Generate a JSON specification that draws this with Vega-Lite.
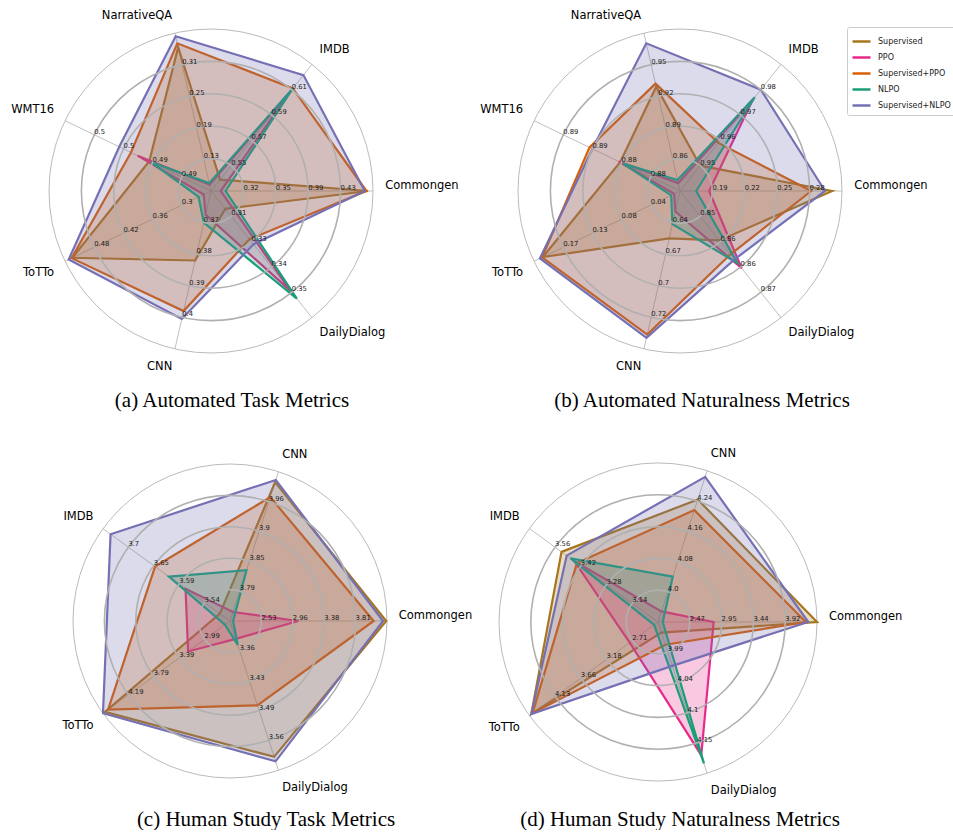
{
"$schema": "https://vega.github.io/schema/vega-lite/v6.json",
"padding": 0,
"background": "white",
"columns": 2,
"bounds": "flush",
"spacing": {"row": 47, "column": 0},
"resolve": {"scale": {"x": "independent", "y": "independent", "size": "independent"}},
"config": {
  "view": {"stroke": null},
  "title": {"orient": "bottom", "offset": 5, "font": "Liberation Serif", "fontSize": 21, "fontWeight": "normal", "color": "#000000", "anchor": "middle"},
  "legend": {"symbolType": "stroke", "symbolSize": 324, "symbolStrokeWidth": 2.5, "labelFont": "DejaVu Sans", "labelFontSize": 8, "labelColor": "#222222", "labelOffset": 6, "rowPadding": -1.4, "padding": 4, "strokeColor": "#cccccc", "fillColor": "white", "cornerRadius": 2}
},
"datasets": {
  "a_axes": [
    {"metric": "Commongen", "idx": 0, "lo": 0.2833, "hi": 0.4667},
    {"metric": "IMDB", "idx": 1, "lo": 0.53, "hi": 0.63},
    {"metric": "NarrativeQA", "idx": 2, "lo": 0.07, "hi": 0.37},
    {"metric": "WMT16", "idx": 3, "lo": 0.4875, "hi": 0.505},
    {"metric": "ToTTo", "idx": 4, "lo": 0.24, "hi": 0.54},
    {"metric": "CNN", "idx": 5, "lo": 0.36, "hi": 0.41},
    {"metric": "DailyDialog", "idx": 6, "lo": 0.3005, "hi": 0.363}
  ],
  "b_axes": [
    {"metric": "Commongen", "idx": 0, "lo": 0.16, "hi": 0.31},
    {"metric": "IMDB", "idx": 1, "lo": 0.94, "hi": 0.99},
    {"metric": "NarrativeQA", "idx": 2, "lo": 0.83, "hi": 0.98},
    {"metric": "WMT16", "idx": 3, "lo": 0.8755, "hi": 0.8955},
    {"metric": "ToTTo", "idx": 4, "lo": -0.004, "hi": 0.2135},
    {"metric": "CNN", "idx": 5, "lo": 0.6133, "hi": 0.7467},
    {"metric": "DailyDialog", "idx": 6, "lo": 0.846, "hi": 0.876}
  ],
  "c_axes": [
    {"metric": "Commongen", "idx": 0, "lo": 2.1033, "hi": 4.2367},
    {"metric": "CNN", "idx": 1, "lo": 3.7333, "hi": 4.0167},
    {"metric": "IMDB", "idx": 2, "lo": 3.4867, "hi": 3.7533},
    {"metric": "ToTTo", "idx": 3, "lo": 2.59, "hi": 4.59},
    {"metric": "DailyDialog", "idx": 4, "lo": 3.2933, "hi": 3.6267}
  ],
  "d_axes": [
    {"metric": "Commongen", "idx": 0, "lo": 1.9867, "hi": 4.4033},
    {"metric": "CNN", "idx": 1, "lo": 3.92, "hi": 4.32},
    {"metric": "IMDB", "idx": 2, "lo": 3.0, "hi": 3.7},
    {"metric": "ToTTo", "idx": 3, "lo": 2.2367, "hi": 4.6033},
    {"metric": "DailyDialog", "idx": 4, "lo": 3.9367, "hi": 4.2033}
  ],
  "a_scores": [
    {"model": "Supervised", "metric": "Commongen", "value": 0.4611},
    {"model": "Supervised", "metric": "IMDB", "value": 0.539},
    {"model": "Supervised", "metric": "NarrativeQA", "value": 0.343},
    {"model": "Supervised", "metric": "WMT16", "value": 0.4949},
    {"model": "Supervised", "metric": "ToTTo", "value": 0.525},
    {"model": "Supervised", "metric": "CNN", "value": 0.382},
    {"model": "Supervised", "metric": "DailyDialog", "value": 0.3093},
    {"model": "PPO", "metric": "Commongen", "value": 0.2943},
    {"model": "PPO", "metric": "IMDB", "value": 0.609},
    {"model": "PPO", "metric": "NarrativeQA", "value": 0.082},
    {"model": "PPO", "metric": "WMT16", "value": 0.4963},
    {"model": "PPO", "metric": "ToTTo", "value": 0.255},
    {"model": "PPO", "metric": "CNN", "value": 0.3675},
    {"model": "PPO", "metric": "DailyDialog", "value": 0.3499},
    {"model": "Supervised+PPO", "metric": "Commongen", "value": 0.4593},
    {"model": "Supervised+PPO", "metric": "IMDB", "value": 0.611},
    {"model": "Supervised+PPO", "metric": "NarrativeQA", "value": 0.3505},
    {"model": "Supervised+PPO", "metric": "WMT16", "value": 0.4971},
    {"model": "Supervised+PPO", "metric": "ToTTo", "value": 0.5265},
    {"model": "Supervised+PPO", "metric": "CNN", "value": 0.398},
    {"model": "Supervised+PPO", "metric": "DailyDialog", "value": 0.3243},
    {"model": "NLPO", "metric": "Commongen", "value": 0.2998},
    {"model": "NLPO", "metric": "IMDB", "value": 0.611},
    {"model": "NLPO", "metric": "NarrativeQA", "value": 0.085},
    {"model": "NLPO", "metric": "WMT16", "value": 0.4947},
    {"model": "NLPO", "metric": "ToTTo", "value": 0.2655},
    {"model": "NLPO", "metric": "CNN", "value": 0.37},
    {"model": "NLPO", "metric": "DailyDialog", "value": 0.3536},
    {"model": "Supervised+NLPO", "metric": "Commongen", "value": 0.4574},
    {"model": "Supervised+NLPO", "metric": "IMDB", "value": 0.6215},
    {"model": "Supervised+NLPO", "metric": "NarrativeQA", "value": 0.364},
    {"model": "Supervised+NLPO", "metric": "WMT16", "value": 0.4985},
    {"model": "Supervised+NLPO", "metric": "ToTTo", "value": 0.5325},
    {"model": "Supervised+NLPO", "metric": "CNN", "value": 0.4005},
    {"model": "Supervised+NLPO", "metric": "DailyDialog", "value": 0.3268}
  ],
  "b_scores": [
    {"model": "Supervised", "metric": "Commongen", "value": 0.301},
    {"model": "Supervised", "metric": "IMDB", "value": 0.95},
    {"model": "Supervised", "metric": "NarrativeQA", "value": 0.929},
    {"model": "Supervised", "metric": "WMT16", "value": 0.8837},
    {"model": "Supervised", "metric": "ToTTo", "value": 0.2005},
    {"model": "Supervised", "metric": "CNN", "value": 0.6533},
    {"model": "Supervised", "metric": "DailyDialog", "value": 0.8577},
    {"model": "PPO", "metric": "Commongen", "value": 0.187},
    {"model": "PPO", "metric": "IMDB", "value": 0.976},
    {"model": "PPO", "metric": "NarrativeQA", "value": 0.8375},
    {"model": "PPO", "metric": "WMT16", "value": 0.8839},
    {"model": "PPO", "metric": "ToTTo", "value": 0.0047},
    {"model": "PPO", "metric": "CNN", "value": 0.6306},
    {"model": "PPO", "metric": "DailyDialog", "value": 0.8643},
    {"model": "Supervised+PPO", "metric": "Commongen", "value": 0.2815},
    {"model": "Supervised+PPO", "metric": "IMDB", "value": 0.959},
    {"model": "Supervised+PPO", "metric": "NarrativeQA", "value": 0.932},
    {"model": "Supervised+PPO", "metric": "WMT16", "value": 0.8879},
    {"model": "Supervised+PPO", "metric": "ToTTo", "value": 0.2015},
    {"model": "Supervised+PPO", "metric": "CNN", "value": 0.7346},
    {"model": "Supervised+PPO", "metric": "DailyDialog", "value": 0.861},
    {"model": "NLPO", "metric": "Commongen", "value": 0.175},
    {"model": "NLPO", "metric": "IMDB", "value": 0.977},
    {"model": "NLPO", "metric": "NarrativeQA", "value": 0.8405},
    {"model": "NLPO", "metric": "WMT16", "value": 0.8833},
    {"model": "NLPO", "metric": "ToTTo", "value": 0.0091},
    {"model": "NLPO", "metric": "CNN", "value": 0.6413},
    {"model": "NLPO", "metric": "DailyDialog", "value": 0.8631},
    {"model": "Supervised+NLPO", "metric": "Commongen", "value": 0.2943},
    {"model": "Supervised+NLPO", "metric": "IMDB", "value": 0.98},
    {"model": "Supervised+NLPO", "metric": "NarrativeQA", "value": 0.9703},
    {"model": "Supervised+NLPO", "metric": "WMT16", "value": 0.8875},
    {"model": "Supervised+NLPO", "metric": "ToTTo", "value": 0.2048},
    {"model": "Supervised+NLPO", "metric": "CNN", "value": 0.7373},
    {"model": "Supervised+NLPO", "metric": "DailyDialog", "value": 0.8622}
  ],
  "c_scores": [
    {"model": "Supervised", "metric": "Commongen", "value": 4.226},
    {"model": "Supervised", "metric": "CNN", "value": 3.9968},
    {"model": "Supervised", "metric": "IMDB", "value": 3.508},
    {"model": "Supervised", "metric": "ToTTo", "value": 4.56},
    {"model": "Supervised", "metric": "DailyDialog", "value": 3.5966},
    {"model": "PPO", "metric": "Commongen", "value": 3.0313},
    {"model": "PPO", "metric": "CNN", "value": 3.7503},
    {"model": "PPO", "metric": "IMDB", "value": 3.58},
    {"model": "PPO", "metric": "ToTTo", "value": 3.25},
    {"model": "PPO", "metric": "DailyDialog", "value": 3.3333},
    {"model": "Supervised+PPO", "metric": "Commongen", "value": 4.0553},
    {"model": "Supervised+PPO", "metric": "CNN", "value": 3.9685},
    {"model": "Supervised+PPO", "metric": "IMDB", "value": 3.644},
    {"model": "Supervised+PPO", "metric": "ToTTo", "value": 4.51},
    {"model": "Supervised+PPO", "metric": "DailyDialog", "value": 3.4816},
    {"model": "NLPO", "metric": "Commongen", "value": 2.146},
    {"model": "NLPO", "metric": "CNN", "value": 3.8296},
    {"model": "NLPO", "metric": "IMDB", "value": 3.6147},
    {"model": "NLPO", "metric": "ToTTo", "value": 2.67},
    {"model": "NLPO", "metric": "DailyDialog", "value": 3.3466},
    {"model": "Supervised+NLPO", "metric": "Commongen", "value": 4.1833},
    {"model": "Supervised+NLPO", "metric": "CNN", "value": 4.001},
    {"model": "Supervised+NLPO", "metric": "IMDB", "value": 3.7374},
    {"model": "Supervised+NLPO", "metric": "ToTTo", "value": 4.59},
    {"model": "Supervised+NLPO", "metric": "DailyDialog", "value": 3.6066}
  ],
  "d_scores": [
    {"model": "Supervised", "metric": "Commongen", "value": 4.4033},
    {"model": "Supervised", "metric": "CNN", "value": 4.244},
    {"model": "Supervised", "metric": "IMDB", "value": 3.525},
    {"model": "Supervised", "metric": "ToTTo", "value": 4.5679},
    {"model": "Supervised", "metric": "DailyDialog", "value": 3.9554},
    {"model": "PPO", "metric": "Commongen", "value": 2.8325},
    {"model": "PPO", "metric": "CNN", "value": 3.948},
    {"model": "PPO", "metric": "IMDB", "value": 3.455},
    {"model": "PPO", "metric": "ToTTo", "value": 2.7574},
    {"model": "PPO", "metric": "DailyDialog", "value": 4.1714},
    {"model": "Supervised+PPO", "metric": "Commongen", "value": 4.2342},
    {"model": "Supervised+PPO", "metric": "CNN", "value": 4.216},
    {"model": "Supervised+PPO", "metric": "IMDB", "value": 3.441},
    {"model": "Supervised+PPO", "metric": "ToTTo", "value": 4.5442},
    {"model": "Supervised+PPO", "metric": "DailyDialog", "value": 3.9767},
    {"model": "NLPO", "metric": "Commongen", "value": 2.0592},
    {"model": "NLPO", "metric": "CNN", "value": 4.04},
    {"model": "NLPO", "metric": "IMDB", "value": 3.476},
    {"model": "NLPO", "metric": "ToTTo", "value": 2.3077},
    {"model": "NLPO", "metric": "DailyDialog", "value": 4.186},
    {"model": "Supervised+NLPO", "metric": "Commongen", "value": 4.2705},
    {"model": "Supervised+NLPO", "metric": "CNN", "value": 4.304},
    {"model": "Supervised+NLPO", "metric": "IMDB", "value": 3.497},
    {"model": "Supervised+NLPO", "metric": "ToTTo", "value": 4.5679},
    {"model": "Supervised+NLPO", "metric": "DailyDialog", "value": 4.014}
  ],
  "a_ticks": [
    {"metric": "Commongen", "tick": 1, "label": "0.32"}, {"metric": "Commongen", "tick": 2, "label": "0.35"}, {"metric": "Commongen", "tick": 3, "label": "0.39"}, {"metric": "Commongen", "tick": 4, "label": "0.43"},
    {"metric": "IMDB", "tick": 1, "label": "0.55"}, {"metric": "IMDB", "tick": 2, "label": "0.57"}, {"metric": "IMDB", "tick": 3, "label": "0.59"}, {"metric": "IMDB", "tick": 4, "label": "0.61"},
    {"metric": "NarrativeQA", "tick": 1, "label": "0.13"}, {"metric": "NarrativeQA", "tick": 2, "label": "0.19"}, {"metric": "NarrativeQA", "tick": 3, "label": "0.25"}, {"metric": "NarrativeQA", "tick": 4, "label": "0.31"},
    {"metric": "WMT16", "tick": 1, "label": "0.49"}, {"metric": "WMT16", "tick": 2, "label": "0.49"}, {"metric": "WMT16", "tick": 3, "label": "0.5"}, {"metric": "WMT16", "tick": 4, "label": "0.5"},
    {"metric": "ToTTo", "tick": 1, "label": "0.3"}, {"metric": "ToTTo", "tick": 2, "label": "0.36"}, {"metric": "ToTTo", "tick": 3, "label": "0.42"}, {"metric": "ToTTo", "tick": 4, "label": "0.48"},
    {"metric": "CNN", "tick": 1, "label": "0.37"}, {"metric": "CNN", "tick": 2, "label": "0.38"}, {"metric": "CNN", "tick": 3, "label": "0.39"}, {"metric": "CNN", "tick": 4, "label": "0.4"},
    {"metric": "DailyDialog", "tick": 1, "label": "0.31"}, {"metric": "DailyDialog", "tick": 2, "label": "0.33"}, {"metric": "DailyDialog", "tick": 3, "label": "0.34"}, {"metric": "DailyDialog", "tick": 4, "label": "0.35"}
  ],
  "b_ticks": [
    {"metric": "Commongen", "tick": 1, "label": "0.19"}, {"metric": "Commongen", "tick": 2, "label": "0.22"}, {"metric": "Commongen", "tick": 3, "label": "0.25"}, {"metric": "Commongen", "tick": 4, "label": "0.28"},
    {"metric": "IMDB", "tick": 1, "label": "0.95"}, {"metric": "IMDB", "tick": 2, "label": "0.96"}, {"metric": "IMDB", "tick": 3, "label": "0.97"}, {"metric": "IMDB", "tick": 4, "label": "0.98"},
    {"metric": "NarrativeQA", "tick": 1, "label": "0.86"}, {"metric": "NarrativeQA", "tick": 2, "label": "0.89"}, {"metric": "NarrativeQA", "tick": 3, "label": "0.92"}, {"metric": "NarrativeQA", "tick": 4, "label": "0.95"},
    {"metric": "WMT16", "tick": 1, "label": "0.88"}, {"metric": "WMT16", "tick": 2, "label": "0.88"}, {"metric": "WMT16", "tick": 3, "label": "0.89"}, {"metric": "WMT16", "tick": 4, "label": "0.89"},
    {"metric": "ToTTo", "tick": 1, "label": "0.04"}, {"metric": "ToTTo", "tick": 2, "label": "0.08"}, {"metric": "ToTTo", "tick": 3, "label": "0.13"}, {"metric": "ToTTo", "tick": 4, "label": "0.17"},
    {"metric": "CNN", "tick": 1, "label": "0.64"}, {"metric": "CNN", "tick": 2, "label": "0.67"}, {"metric": "CNN", "tick": 3, "label": "0.7"}, {"metric": "CNN", "tick": 4, "label": "0.72"},
    {"metric": "DailyDialog", "tick": 1, "label": "0.85"}, {"metric": "DailyDialog", "tick": 2, "label": "0.86"}, {"metric": "DailyDialog", "tick": 3, "label": "0.86"}, {"metric": "DailyDialog", "tick": 4, "label": "0.87"}
  ],
  "c_ticks": [
    {"metric": "Commongen", "tick": 1, "label": "2.53"}, {"metric": "Commongen", "tick": 2, "label": "2.96"}, {"metric": "Commongen", "tick": 3, "label": "3.38"}, {"metric": "Commongen", "tick": 4, "label": "3.81"},
    {"metric": "CNN", "tick": 1, "label": "3.79"}, {"metric": "CNN", "tick": 2, "label": "3.85"}, {"metric": "CNN", "tick": 3, "label": "3.9"}, {"metric": "CNN", "tick": 4, "label": "3.96"},
    {"metric": "IMDB", "tick": 1, "label": "3.54"}, {"metric": "IMDB", "tick": 2, "label": "3.59"}, {"metric": "IMDB", "tick": 3, "label": "3.65"}, {"metric": "IMDB", "tick": 4, "label": "3.7"},
    {"metric": "ToTTo", "tick": 1, "label": "2.99"}, {"metric": "ToTTo", "tick": 2, "label": "3.39"}, {"metric": "ToTTo", "tick": 3, "label": "3.79"}, {"metric": "ToTTo", "tick": 4, "label": "4.19"},
    {"metric": "DailyDialog", "tick": 1, "label": "3.36"}, {"metric": "DailyDialog", "tick": 2, "label": "3.43"}, {"metric": "DailyDialog", "tick": 3, "label": "3.49"}, {"metric": "DailyDialog", "tick": 4, "label": "3.56"}
  ],
  "d_ticks": [
    {"metric": "Commongen", "tick": 1, "label": "2.47"}, {"metric": "Commongen", "tick": 2, "label": "2.95"}, {"metric": "Commongen", "tick": 3, "label": "3.44"}, {"metric": "Commongen", "tick": 4, "label": "3.92"},
    {"metric": "CNN", "tick": 1, "label": "4.0"}, {"metric": "CNN", "tick": 2, "label": "4.08"}, {"metric": "CNN", "tick": 3, "label": "4.16"}, {"metric": "CNN", "tick": 4, "label": "4.24"},
    {"metric": "IMDB", "tick": 1, "label": "3.14"}, {"metric": "IMDB", "tick": 2, "label": "3.28"}, {"metric": "IMDB", "tick": 3, "label": "3.42"}, {"metric": "IMDB", "tick": 4, "label": "3.56"},
    {"metric": "ToTTo", "tick": 1, "label": "2.71"}, {"metric": "ToTTo", "tick": 2, "label": "3.18"}, {"metric": "ToTTo", "tick": 3, "label": "3.66"}, {"metric": "ToTTo", "tick": 4, "label": "4.13"},
    {"metric": "DailyDialog", "tick": 1, "label": "3.99"}, {"metric": "DailyDialog", "tick": 2, "label": "4.04"}, {"metric": "DailyDialog", "tick": 3, "label": "4.1"}, {"metric": "DailyDialog", "tick": 4, "label": "4.15"}
  ]
},
"concat": [
  {"width": 470, "height": 385,
   "title": {"text": "(a) Automated Task Metrics", "dx": -3},
   "layer": [
    {"data": {"name": "a_axes"},
     "transform": [{"calculate": "2*PI*datum.idx/7", "as": "t"}, {"calculate": "cos(datum.t)", "as": "px"}, {"calculate": "sin(datum.t)", "as": "py"}],
     "mark": {"type": "rule", "color": "#b8b8b8", "strokeWidth": 0.9},
     "encoding": {"x": {"field": "px", "type": "quantitative", "scale": {"domain": [-1.3025, 1.5988], "nice": false, "zero": false}, "axis": null},
                  "y": {"field": "py", "type": "quantitative", "scale": {"domain": [-1.1975, 1.179], "nice": false, "zero": false}, "axis": null},
                  "x2": {"datum": 0}, "y2": {"datum": 0}}},
    {"data": {"values": [{"ring": 1}]},
     "mark": {"type": "point", "shape": "circle", "filled": false, "color": "#bbbbbb", "strokeWidth": 1, "opacity": 1},
     "encoding": {"x": {"datum": 0, "type": "quantitative", "axis": null}, "y": {"datum": 0, "type": "quantitative", "axis": null},
                  "size": {"field": "ring", "type": "quantitative", "scale": {"type": "pow", "exponent": 2, "domain": [0, 1], "range": [0, 104976]}, "legend": null}}},
    {"data": {"name": "a_scores"},
     "transform": [{"lookup": "metric", "from": {"data": {"name": "a_axes"}, "key": "metric", "fields": ["idx", "lo", "hi"]}},
                   {"calculate": "(datum.value - datum.lo) / (datum.hi - datum.lo)", "as": "r"},
                   {"calculate": "2*PI*datum.idx/7", "as": "t"}, {"calculate": "datum.r*cos(datum.t)", "as": "px"}, {"calculate": "datum.r*sin(datum.t)", "as": "py"}],
     "mark": {"type": "line", "interpolate": "linear-closed", "strokeWidth": 2.2, "fillOpacity": 0.25},
     "encoding": {"x": {"field": "px", "type": "quantitative", "axis": null}, "y": {"field": "py", "type": "quantitative", "axis": null},
                  "order": {"field": "idx", "type": "quantitative"},
                  "color": {"field": "model", "type": "nominal", "scale": {"domain": ["Supervised", "PPO", "Supervised+PPO", "NLPO", "Supervised+NLPO"], "range": ["#a6761d", "#e7298a", "#d95f02", "#1b9e77", "#7570b3"]}, "legend": {"title": null, "orient": "none", "legendX": 847, "legendY": 27}},
                  "fill": {"field": "model", "type": "nominal", "scale": {"domain": ["Supervised", "PPO", "Supervised+PPO", "NLPO", "Supervised+NLPO"], "range": ["#a6761d", "#e7298a", "#d95f02", "#1b9e77", "#7570b3"]}, "legend": null}}},
    {"data": {"values": [{"ring": 0.2}, {"ring": 0.4}, {"ring": 0.6}, {"ring": 0.8}]},
     "mark": {"type": "point", "shape": "circle", "filled": false, "color": "#b0b0b0", "strokeWidth": 1.6, "opacity": 1},
     "encoding": {"x": {"datum": 0, "type": "quantitative", "axis": null}, "y": {"datum": 0, "type": "quantitative", "axis": null},
                  "size": {"field": "ring", "type": "quantitative", "scale": {"type": "pow", "exponent": 2, "domain": [0, 1], "range": [0, 104976]}, "legend": null}}},
    {"data": {"name": "a_ticks"},
     "transform": [{"lookup": "metric", "from": {"data": {"name": "a_axes"}, "key": "metric", "fields": ["idx"]}},
                   {"calculate": "datum.tick/5", "as": "r"}, {"calculate": "2*PI*datum.idx/7", "as": "t"}, {"calculate": "datum.r*cos(datum.t)", "as": "px"}, {"calculate": "datum.r*sin(datum.t)", "as": "py"}],
     "mark": {"type": "text", "align": "left", "baseline": "bottom", "font": "DejaVu Sans", "fontSize": 6.8, "color": "#222222"},
     "encoding": {"x": {"field": "px", "type": "quantitative", "axis": null}, "y": {"field": "py", "type": "quantitative", "axis": null}, "text": {"field": "label"}}},
    {"data": {"name": "a_axes"},
     "transform": [{"calculate": "2*PI*datum.idx/7", "as": "t"}, {"calculate": "cos(datum.t)", "as": "c"}, {"calculate": "sin(datum.t)", "as": "s"}, {"calculate": "1.075*datum.c", "as": "px"}, {"calculate": "1.075*datum.s", "as": "py"}],
     "mark": {"type": "text", "font": "DejaVu Sans", "fontSize": 11.5, "color": "#000000", "align": {"expr": "datum.c > 0.1 ? 'left' : (datum.c < -0.1 ? 'right' : 'center')"}, "baseline": {"expr": "datum.s < -0.1 ? 'top' : 'bottom'"}},
     "encoding": {"x": {"field": "px", "type": "quantitative", "axis": null}, "y": {"field": "py", "type": "quantitative", "axis": null}, "text": {"field": "metric"}}}
   ]},
  {"width": 483, "height": 385,
   "title": {"text": "(b) Automated Naturalness Metrics", "dx": -9.5},
   "layer": [
    {"data": {"name": "b_axes"},
     "transform": [{"calculate": "2*PI*datum.idx/7", "as": "t"}, {"calculate": "cos(datum.t)", "as": "px"}, {"calculate": "sin(datum.t)", "as": "py"}],
     "mark": {"type": "rule", "color": "#b8b8b8", "strokeWidth": 0.9},
     "encoding": {"x": {"field": "px", "type": "quantitative", "scale": {"domain": [-1.2963, 1.6852], "nice": false, "zero": false}, "axis": null},
                  "y": {"field": "py", "type": "quantitative", "scale": {"domain": [-1.1975, 1.179], "nice": false, "zero": false}, "axis": null},
                  "x2": {"datum": 0}, "y2": {"datum": 0}}},
    {"data": {"values": [{"ring": 1}]},
     "mark": {"type": "point", "shape": "circle", "filled": false, "color": "#bbbbbb", "strokeWidth": 1, "opacity": 1},
     "encoding": {"x": {"datum": 0, "type": "quantitative", "axis": null}, "y": {"datum": 0, "type": "quantitative", "axis": null},
                  "size": {"field": "ring", "type": "quantitative", "scale": {"type": "pow", "exponent": 2, "domain": [0, 1], "range": [0, 104976]}, "legend": null}}},
    {"data": {"name": "b_scores"},
     "transform": [{"lookup": "metric", "from": {"data": {"name": "b_axes"}, "key": "metric", "fields": ["idx", "lo", "hi"]}},
                   {"calculate": "(datum.value - datum.lo) / (datum.hi - datum.lo)", "as": "r"},
                   {"calculate": "2*PI*datum.idx/7", "as": "t"}, {"calculate": "datum.r*cos(datum.t)", "as": "px"}, {"calculate": "datum.r*sin(datum.t)", "as": "py"}],
     "mark": {"type": "line", "interpolate": "linear-closed", "strokeWidth": 2.2, "fillOpacity": 0.25},
     "encoding": {"x": {"field": "px", "type": "quantitative", "axis": null}, "y": {"field": "py", "type": "quantitative", "axis": null},
                  "order": {"field": "idx", "type": "quantitative"},
                  "color": {"field": "model", "type": "nominal", "scale": {"domain": ["Supervised", "PPO", "Supervised+PPO", "NLPO", "Supervised+NLPO"], "range": ["#a6761d", "#e7298a", "#d95f02", "#1b9e77", "#7570b3"]}, "legend": {"title": null, "orient": "none", "legendX": 847, "legendY": 27}},
                  "fill": {"field": "model", "type": "nominal", "scale": {"domain": ["Supervised", "PPO", "Supervised+PPO", "NLPO", "Supervised+NLPO"], "range": ["#a6761d", "#e7298a", "#d95f02", "#1b9e77", "#7570b3"]}, "legend": null}}},
    {"data": {"values": [{"ring": 0.2}, {"ring": 0.4}, {"ring": 0.6}, {"ring": 0.8}]},
     "mark": {"type": "point", "shape": "circle", "filled": false, "color": "#b0b0b0", "strokeWidth": 1.6, "opacity": 1},
     "encoding": {"x": {"datum": 0, "type": "quantitative", "axis": null}, "y": {"datum": 0, "type": "quantitative", "axis": null},
                  "size": {"field": "ring", "type": "quantitative", "scale": {"type": "pow", "exponent": 2, "domain": [0, 1], "range": [0, 104976]}, "legend": null}}},
    {"data": {"name": "b_ticks"},
     "transform": [{"lookup": "metric", "from": {"data": {"name": "b_axes"}, "key": "metric", "fields": ["idx"]}},
                   {"calculate": "datum.tick/5", "as": "r"}, {"calculate": "2*PI*datum.idx/7", "as": "t"}, {"calculate": "datum.r*cos(datum.t)", "as": "px"}, {"calculate": "datum.r*sin(datum.t)", "as": "py"}],
     "mark": {"type": "text", "align": "left", "baseline": "bottom", "font": "DejaVu Sans", "fontSize": 6.8, "color": "#222222"},
     "encoding": {"x": {"field": "px", "type": "quantitative", "axis": null}, "y": {"field": "py", "type": "quantitative", "axis": null}, "text": {"field": "label"}}},
    {"data": {"name": "b_axes"},
     "transform": [{"calculate": "2*PI*datum.idx/7", "as": "t"}, {"calculate": "cos(datum.t)", "as": "c"}, {"calculate": "sin(datum.t)", "as": "s"}, {"calculate": "1.075*datum.c", "as": "px"}, {"calculate": "1.075*datum.s", "as": "py"}],
     "mark": {"type": "text", "font": "DejaVu Sans", "fontSize": 11.5, "color": "#000000", "align": {"expr": "datum.c > 0.1 ? 'left' : (datum.c < -0.1 ? 'right' : 'center')"}, "baseline": {"expr": "datum.s < -0.1 ? 'top' : 'bottom'"}},
     "encoding": {"x": {"field": "px", "type": "quantitative", "axis": null}, "y": {"field": "py", "type": "quantitative", "axis": null}, "text": {"field": "metric"}}}
   ]},
  {"width": 470, "height": 372,
   "title": {"text": "(c) Human Study Task Metrics", "dx": 31},
   "layer": [
    {"data": {"name": "c_axes"},
     "transform": [{"calculate": "2*PI*datum.idx/5", "as": "t"}, {"calculate": "cos(datum.t)", "as": "px"}, {"calculate": "sin(datum.t)", "as": "py"}],
     "mark": {"type": "rule", "color": "#b8b8b8", "strokeWidth": 0.9},
     "encoding": {"x": {"field": "px", "type": "quantitative", "scale": {"domain": [-1.465, 1.5287], "nice": false, "zero": false}, "axis": null},
                  "y": {"field": "py", "type": "quantitative", "scale": {"domain": [-1.1656, 1.2038], "nice": false, "zero": false}, "axis": null},
                  "x2": {"datum": 0}, "y2": {"datum": 0}}},
    {"data": {"values": [{"ring": 1}]},
     "mark": {"type": "point", "shape": "circle", "filled": false, "color": "#bbbbbb", "strokeWidth": 1, "opacity": 1},
     "encoding": {"x": {"datum": 0, "type": "quantitative", "axis": null}, "y": {"datum": 0, "type": "quantitative", "axis": null},
                  "size": {"field": "ring", "type": "quantitative", "scale": {"type": "pow", "exponent": 2, "domain": [0, 1], "range": [0, 98596]}, "legend": null}}},
    {"data": {"name": "c_scores"},
     "transform": [{"lookup": "metric", "from": {"data": {"name": "c_axes"}, "key": "metric", "fields": ["idx", "lo", "hi"]}},
                   {"calculate": "(datum.value - datum.lo) / (datum.hi - datum.lo)", "as": "r"},
                   {"calculate": "2*PI*datum.idx/5", "as": "t"}, {"calculate": "datum.r*cos(datum.t)", "as": "px"}, {"calculate": "datum.r*sin(datum.t)", "as": "py"}],
     "mark": {"type": "line", "interpolate": "linear-closed", "strokeWidth": 2.2, "fillOpacity": 0.25},
     "encoding": {"x": {"field": "px", "type": "quantitative", "axis": null}, "y": {"field": "py", "type": "quantitative", "axis": null},
                  "order": {"field": "idx", "type": "quantitative"},
                  "color": {"field": "model", "type": "nominal", "scale": {"domain": ["Supervised", "PPO", "Supervised+PPO", "NLPO", "Supervised+NLPO"], "range": ["#a6761d", "#e7298a", "#d95f02", "#1b9e77", "#7570b3"]}, "legend": {"title": null, "orient": "none", "legendX": 847, "legendY": 27}},
                  "fill": {"field": "model", "type": "nominal", "scale": {"domain": ["Supervised", "PPO", "Supervised+PPO", "NLPO", "Supervised+NLPO"], "range": ["#a6761d", "#e7298a", "#d95f02", "#1b9e77", "#7570b3"]}, "legend": null}}},
    {"data": {"values": [{"ring": 0.2}, {"ring": 0.4}, {"ring": 0.6}, {"ring": 0.8}]},
     "mark": {"type": "point", "shape": "circle", "filled": false, "color": "#b0b0b0", "strokeWidth": 1.6, "opacity": 1},
     "encoding": {"x": {"datum": 0, "type": "quantitative", "axis": null}, "y": {"datum": 0, "type": "quantitative", "axis": null},
                  "size": {"field": "ring", "type": "quantitative", "scale": {"type": "pow", "exponent": 2, "domain": [0, 1], "range": [0, 98596]}, "legend": null}}},
    {"data": {"name": "c_ticks"},
     "transform": [{"lookup": "metric", "from": {"data": {"name": "c_axes"}, "key": "metric", "fields": ["idx"]}},
                   {"calculate": "datum.tick/5", "as": "r"}, {"calculate": "2*PI*datum.idx/5", "as": "t"}, {"calculate": "datum.r*cos(datum.t)", "as": "px"}, {"calculate": "datum.r*sin(datum.t)", "as": "py"}],
     "mark": {"type": "text", "align": "left", "baseline": "bottom", "font": "DejaVu Sans", "fontSize": 6.8, "color": "#222222"},
     "encoding": {"x": {"field": "px", "type": "quantitative", "axis": null}, "y": {"field": "py", "type": "quantitative", "axis": null}, "text": {"field": "label"}}},
    {"data": {"name": "c_axes"},
     "transform": [{"calculate": "2*PI*datum.idx/5", "as": "t"}, {"calculate": "cos(datum.t)", "as": "c"}, {"calculate": "sin(datum.t)", "as": "s"}, {"calculate": "1.075*datum.c", "as": "px"}, {"calculate": "1.075*datum.s", "as": "py"}],
     "mark": {"type": "text", "font": "DejaVu Sans", "fontSize": 11.5, "color": "#000000", "align": {"expr": "datum.c > 0.1 ? 'left' : (datum.c < -0.1 ? 'right' : 'center')"}, "baseline": {"expr": "datum.s < -0.1 ? 'top' : 'bottom'"}},
     "encoding": {"x": {"field": "px", "type": "quantitative", "axis": null}, "y": {"field": "py", "type": "quantitative", "axis": null}, "text": {"field": "metric"}}}
   ]},
  {"width": 483, "height": 372,
   "title": {"text": "(d) Human Study Naturalness Metrics", "dx": -31.5},
   "layer": [
    {"data": {"name": "d_axes"},
     "transform": [{"calculate": "2*PI*datum.idx/5", "as": "t"}, {"calculate": "cos(datum.t)", "as": "px"}, {"calculate": "sin(datum.t)", "as": "py"}],
     "mark": {"type": "rule", "color": "#b8b8b8", "strokeWidth": 0.9},
     "encoding": {"x": {"field": "px", "type": "quantitative", "scale": {"domain": [-1.1824, 1.8553], "nice": false, "zero": false}, "axis": null},
                  "y": {"field": "py", "type": "quantitative", "scale": {"domain": [-1.1447, 1.195], "nice": false, "zero": false}, "axis": null},
                  "x2": {"datum": 0}, "y2": {"datum": 0}}},
    {"data": {"values": [{"ring": 1}]},
     "mark": {"type": "point", "shape": "circle", "filled": false, "color": "#bbbbbb", "strokeWidth": 1, "opacity": 1},
     "encoding": {"x": {"datum": 0, "type": "quantitative", "axis": null}, "y": {"datum": 0, "type": "quantitative", "axis": null},
                  "size": {"field": "ring", "type": "quantitative", "scale": {"type": "pow", "exponent": 2, "domain": [0, 1], "range": [0, 101124]}, "legend": null}}},
    {"data": {"name": "d_scores"},
     "transform": [{"lookup": "metric", "from": {"data": {"name": "d_axes"}, "key": "metric", "fields": ["idx", "lo", "hi"]}},
                   {"calculate": "(datum.value - datum.lo) / (datum.hi - datum.lo)", "as": "r"},
                   {"calculate": "2*PI*datum.idx/5", "as": "t"}, {"calculate": "datum.r*cos(datum.t)", "as": "px"}, {"calculate": "datum.r*sin(datum.t)", "as": "py"}],
     "mark": {"type": "line", "interpolate": "linear-closed", "strokeWidth": 2.2, "fillOpacity": 0.25},
     "encoding": {"x": {"field": "px", "type": "quantitative", "axis": null}, "y": {"field": "py", "type": "quantitative", "axis": null},
                  "order": {"field": "idx", "type": "quantitative"},
                  "color": {"field": "model", "type": "nominal", "scale": {"domain": ["Supervised", "PPO", "Supervised+PPO", "NLPO", "Supervised+NLPO"], "range": ["#a6761d", "#e7298a", "#d95f02", "#1b9e77", "#7570b3"]}, "legend": {"title": null, "orient": "none", "legendX": 847, "legendY": 27}},
                  "fill": {"field": "model", "type": "nominal", "scale": {"domain": ["Supervised", "PPO", "Supervised+PPO", "NLPO", "Supervised+NLPO"], "range": ["#a6761d", "#e7298a", "#d95f02", "#1b9e77", "#7570b3"]}, "legend": null}}},
    {"data": {"values": [{"ring": 0.2}, {"ring": 0.4}, {"ring": 0.6}, {"ring": 0.8}]},
     "mark": {"type": "point", "shape": "circle", "filled": false, "color": "#b0b0b0", "strokeWidth": 1.6, "opacity": 1},
     "encoding": {"x": {"datum": 0, "type": "quantitative", "axis": null}, "y": {"datum": 0, "type": "quantitative", "axis": null},
                  "size": {"field": "ring", "type": "quantitative", "scale": {"type": "pow", "exponent": 2, "domain": [0, 1], "range": [0, 101124]}, "legend": null}}},
    {"data": {"name": "d_ticks"},
     "transform": [{"lookup": "metric", "from": {"data": {"name": "d_axes"}, "key": "metric", "fields": ["idx"]}},
                   {"calculate": "datum.tick/5", "as": "r"}, {"calculate": "2*PI*datum.idx/5", "as": "t"}, {"calculate": "datum.r*cos(datum.t)", "as": "px"}, {"calculate": "datum.r*sin(datum.t)", "as": "py"}],
     "mark": {"type": "text", "align": "left", "baseline": "bottom", "font": "DejaVu Sans", "fontSize": 6.8, "color": "#222222"},
     "encoding": {"x": {"field": "px", "type": "quantitative", "axis": null}, "y": {"field": "py", "type": "quantitative", "axis": null}, "text": {"field": "label"}}},
    {"data": {"name": "d_axes"},
     "transform": [{"calculate": "2*PI*datum.idx/5", "as": "t"}, {"calculate": "cos(datum.t)", "as": "c"}, {"calculate": "sin(datum.t)", "as": "s"}, {"calculate": "1.075*datum.c", "as": "px"}, {"calculate": "1.075*datum.s", "as": "py"}],
     "mark": {"type": "text", "font": "DejaVu Sans", "fontSize": 11.5, "color": "#000000", "align": {"expr": "datum.c > 0.1 ? 'left' : (datum.c < -0.1 ? 'right' : 'center')"}, "baseline": {"expr": "datum.s < -0.1 ? 'top' : 'bottom'"}},
     "encoding": {"x": {"field": "px", "type": "quantitative", "axis": null}, "y": {"field": "py", "type": "quantitative", "axis": null}, "text": {"field": "metric"}}}
   ]}
]
}
